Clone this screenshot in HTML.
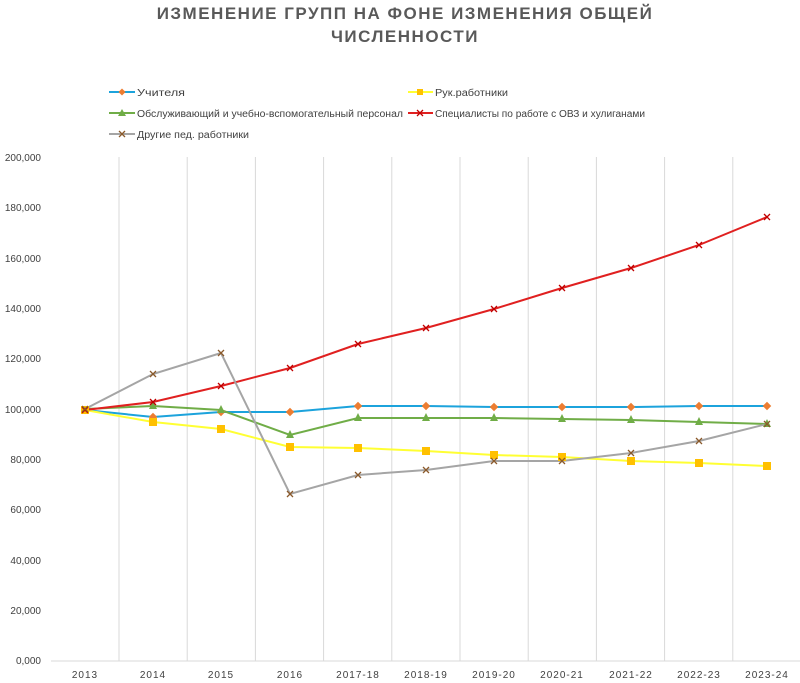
<!DOCTYPE html>
<html><head><meta charset="utf-8"><style>
body{margin:0;background:#fff;width:800px;height:678px;overflow:hidden}
svg text{font-family:"Liberation Sans",sans-serif}
</style></head><body>
<svg width="800" height="678" viewBox="0 0 800 678">
<text x="405" y="19" text-anchor="middle" font-size="17" font-weight="bold" fill="#595959" letter-spacing="1.5">ИЗМЕНЕНИЕ ГРУПП НА ФОНЕ ИЗМЕНЕНИЯ ОБЩЕЙ</text>
<text x="405" y="42" text-anchor="middle" font-size="17" font-weight="bold" fill="#595959" letter-spacing="1.5">ЧИСЛЕННОСТИ</text>
<g font-size="10" fill="#404040">
<line x1="109" y1="92" x2="135" y2="92" stroke="#1ca3dc" stroke-width="2"/><rect x="119.5" y="89.5" width="5" height="5" fill="#ed7d31" transform="rotate(45 122 92)"/>
<text x="137" y="96" textLength="48" lengthAdjust="spacingAndGlyphs">Учителя</text>
<line x1="408" y1="92" x2="433" y2="92" stroke="#ffff33" stroke-width="2"/><rect x="417" y="89" width="6" height="6" fill="#ffc000"/>
<text x="435" y="96" textLength="73" lengthAdjust="spacingAndGlyphs">Рук.работники</text>
<line x1="109" y1="113" x2="135" y2="113" stroke="#70ad47" stroke-width="2"/><polygon points="122,109 126,116 118,116" fill="#70ad47"/>
<text x="137" y="117" textLength="266" lengthAdjust="spacingAndGlyphs">Обслуживающий и учебно-вспомогательный персонал</text>
<line x1="408" y1="113" x2="433" y2="113" stroke="#e02020" stroke-width="2"/><path d="M417 110l6 6M423 110l-6 6" stroke="#c00000" stroke-width="1.3"/>
<text x="435" y="117" textLength="210" lengthAdjust="spacingAndGlyphs">Специалисты по работе с ОВЗ и хулиганами</text>
<line x1="109" y1="134" x2="135" y2="134" stroke="#a5a5a5" stroke-width="2"/><path d="M119 131l6 6M125 131l-6 6" stroke="#8b5a2b" stroke-width="1.3"/>
<text x="137" y="138" textLength="112" lengthAdjust="spacingAndGlyphs">Другие пед. работники</text>
</g>
<g stroke="#d9d9d9" stroke-width="1">
<line x1="119" y1="157" x2="119" y2="661"/><line x1="187.2" y1="157" x2="187.2" y2="661"/><line x1="255.4" y1="157" x2="255.4" y2="661"/><line x1="323.6" y1="157" x2="323.6" y2="661"/><line x1="391.8" y1="157" x2="391.8" y2="661"/><line x1="460" y1="157" x2="460" y2="661"/><line x1="528.2" y1="157" x2="528.2" y2="661"/><line x1="596.4" y1="157" x2="596.4" y2="661"/><line x1="664.6" y1="157" x2="664.6" y2="661"/><line x1="732.8" y1="157" x2="732.8" y2="661"/>
<line x1="51" y1="661" x2="800" y2="661"/>
</g>
<g font-size="10" fill="#404040" text-anchor="end">
<text x="41" y="161">200,000</text><text x="41" y="211">180,000</text><text x="41" y="262">160,000</text><text x="41" y="312">140,000</text><text x="41" y="362">120,000</text><text x="41" y="413">100,000</text><text x="41" y="463">80,000</text><text x="41" y="513">60,000</text><text x="41" y="564">40,000</text><text x="41" y="614">20,000</text><text x="41" y="664">0,000</text>
</g>
<g font-size="10" fill="#404040" text-anchor="middle" letter-spacing="1">
<text x="85" y="678">2013</text><text x="153" y="678">2014</text><text x="221" y="678">2015</text><text x="290" y="678">2016</text><text x="358" y="678">2017-18</text><text x="426" y="678">2018-19</text><text x="494" y="678">2019-20</text><text x="562" y="678">2020-21</text><text x="631" y="678">2021-22</text><text x="699" y="678">2022-23</text><text x="767" y="678">2023-24</text>
</g>
<g fill="none" stroke-width="2">
<polyline stroke="#1ca3dc" points="85,410 153,417 221,412 290,412 358,406 426,406 494,407 562,407 631,407 699,406 767,406"/>
<polyline stroke="#ffff33" points="85,410 153,422 221,429 290,447 358,448 426,451 494,455 562,457 631,461 699,463 767,466"/>
<polyline stroke="#70ad47" points="85,409 153,406 221,410 290,435 358,418 426,418 494,418 562,419 631,420 699,422 767,424"/>
<polyline stroke="#e02020" points="85,410 153,402 221,386 290,368 358,344 426,328 494,309 562,288 631,268 699,245 767,217"/>
<polyline stroke="#a5a5a5" points="85,409 153,374 221,353 290,494 358,475 426,470 494,461 562,461 631,453 699,441 767,424"/>
</g>
<g fill="#ed7d31">
<rect x="82" y="407" width="6" height="6" transform="rotate(45 85 410)"/><rect x="150" y="414" width="6" height="6" transform="rotate(45 153 417)"/><rect x="218" y="409" width="6" height="6" transform="rotate(45 221 412)"/><rect x="287" y="409" width="6" height="6" transform="rotate(45 290 412)"/><rect x="355" y="403" width="6" height="6" transform="rotate(45 358 406)"/><rect x="423" y="403" width="6" height="6" transform="rotate(45 426 406)"/><rect x="491" y="404" width="6" height="6" transform="rotate(45 494 407)"/><rect x="559" y="404" width="6" height="6" transform="rotate(45 562 407)"/><rect x="628" y="404" width="6" height="6" transform="rotate(45 631 407)"/><rect x="696" y="403" width="6" height="6" transform="rotate(45 699 406)"/><rect x="764" y="403" width="6" height="6" transform="rotate(45 767 406)"/>
</g>
<g fill="#ffc000">
<rect x="81" y="406" width="8" height="8"/><rect x="149" y="418" width="8" height="8"/><rect x="217" y="425" width="8" height="8"/><rect x="286" y="443" width="8" height="8"/><rect x="354" y="444" width="8" height="8"/><rect x="422" y="447" width="8" height="8"/><rect x="490" y="451" width="8" height="8"/><rect x="558" y="453" width="8" height="8"/><rect x="627" y="457" width="8" height="8"/><rect x="695" y="459" width="8" height="8"/><rect x="763" y="462" width="8" height="8"/>
</g>
<g fill="#70ad47">
<polygon points="153,401 157,409 149,409"/><polygon points="221,405 225,413 217,413"/><polygon points="290,430 294,438 286,438"/><polygon points="358,413 362,421 354,421"/><polygon points="426,413 430,421 422,421"/><polygon points="494,413 498,421 490,421"/><polygon points="562,414 566,422 558,422"/><polygon points="631,415 635,423 627,423"/><polygon points="699,417 703,425 695,425"/><polygon points="767,419 771,427 763,427"/>
</g>
<g stroke="#c00000" stroke-width="1.3">
<path d="M82 407l6 6M88 407l-6 6M150 399l6 6M156 399l-6 6M218 383l6 6M224 383l-6 6M287 365l6 6M293 365l-6 6M355 341l6 6M361 341l-6 6M423 325l6 6M429 325l-6 6M491 306l6 6M497 306l-6 6M559 285l6 6M565 285l-6 6M628 265l6 6M634 265l-6 6M696 242l6 6M702 242l-6 6M764 214l6 6M770 214l-6 6"/>
</g>
<g stroke="#8b5a2b" stroke-width="1.3">
<path d="M82 406l6 6M88 406l-6 6M150 371l6 6M156 371l-6 6M218 350l6 6M224 350l-6 6M287 491l6 6M293 491l-6 6M355 472l6 6M361 472l-6 6M423 467l6 6M429 467l-6 6M491 458l6 6M497 458l-6 6M559 458l6 6M565 458l-6 6M628 450l6 6M634 450l-6 6M696 438l6 6M702 438l-6 6M764 421l6 6M770 421l-6 6"/>
</g>
</svg>
</body></html>
